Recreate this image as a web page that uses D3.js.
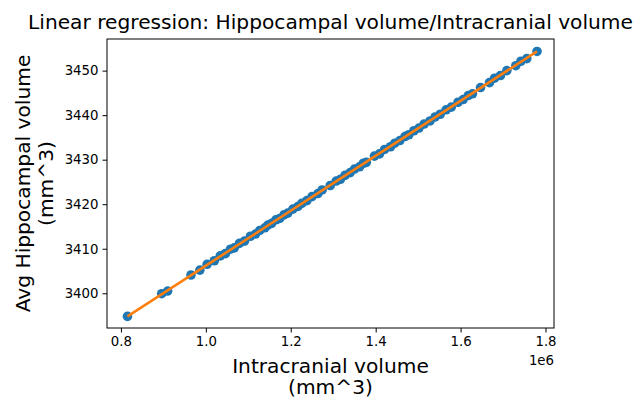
<!DOCTYPE html>
<html>
<head>
<meta charset="utf-8">
<script src="https://cdn.jsdelivr.net/npm/d3@7"></script>
<style>
  body { margin: 0; background: #fff; }
  svg text { font-family: "DejaVu Sans", sans-serif; fill: #000; }
</style>
</head>
<body>
<svg width="635" height="399"></svg>
<script>
// intracranial volume (mm^3)
var icv = [815400, 896000, 910000, 965000, 986000, 1003000, 1020000, 1034000, 1046000, 1058000,
  1067000, 1079000, 1091000, 1105000, 1117000, 1127000, 1139000, 1146000, 1155000, 1165000,
  1174000, 1184000, 1193000, 1205000, 1217000, 1226000, 1238000, 1250000, 1264000, 1274000,
  1293000, 1307000, 1317000, 1328000, 1340000, 1350000, 1362000, 1371000, 1378000, 1397000,
  1409000, 1421000, 1435000, 1445000, 1457000, 1469000, 1478000, 1490000, 1502000, 1514000,
  1528000, 1540000, 1552000, 1566000, 1578000, 1594000, 1606000, 1618000, 1628000, 1647000,
  1668000, 1680000, 1694000, 1709000, 1730000, 1742000, 1756000, 1780000];
// avg hippocampal volume (mm^3)
var hippo = [3394.8, 3399.9, 3400.5, 3404.1, 3405.2, 3406.5, 3407.3, 3408.4, 3408.9, 3409.9,
  3410.2, 3411.2, 3411.7, 3412.8, 3413.3, 3414.1, 3414.7, 3415.3, 3415.7, 3416.5,
  3416.8, 3417.6, 3418.0, 3418.9, 3419.5, 3420.2, 3420.8, 3421.7, 3422.4, 3423.2,
  3424.2, 3425.2, 3425.6, 3426.5, 3427.1, 3427.9, 3428.4, 3429.2, 3429.4, 3430.8,
  3431.3, 3432.3, 3432.9, 3433.7, 3434.3, 3435.2, 3435.6, 3436.5, 3437.1, 3438.0,
  3438.7, 3439.6, 3440.2, 3441.2, 3441.8, 3442.9, 3443.5, 3444.4, 3444.8, 3446.2,
  3447.3, 3448.3, 3448.9, 3450.0, 3451.1, 3452.1, 3452.7, 3454.3];

var xTicks = [0.8e6, 1.0e6, 1.2e6, 1.4e6, 1.6e6, 1.8e6];
var yTicks = [3400, 3410, 3420, 3430, 3440, 3450];

var svg = d3.select("svg");
var pL = 107, pR = 554, pT = 39, pB = 328;

var x = d3.scaleLinear().domain([767200, 1820000]).range([pL, pR]);
var y = d3.scaleLinear().domain([3392.2, 3457.1]).range([pB, pT]);

// frame
svg.append("rect").attr("x", pL).attr("y", pT)
  .attr("width", pR - pL).attr("height", pB - pT)
  .attr("fill", "none").attr("stroke", "#000").attr("stroke-width", 1);

var xAxis = svg.append("g").attr("transform", "translate(0," + pB + ")")
  .call(d3.axisBottom(x).tickValues(xTicks).tickSize(4.5).tickPadding(4)
    .tickFormat(function (d) { return d3.format(".1f")(d / 1e6); }));
var yAxis = svg.append("g").attr("transform", "translate(" + pL + ",0)")
  .call(d3.axisLeft(y).tickValues(yTicks).tickSize(4.5).tickPadding(4).tickFormat(d3.format("d")));
[xAxis, yAxis].forEach(function (g) {
  g.select(".domain").remove();
  g.selectAll("text").attr("font-size", "13.3px").attr("font-family", "DejaVu Sans");
  g.selectAll("line").attr("stroke", "#000");
});

// scatter
svg.append("g").selectAll("circle")
  .data(icv)
  .enter().append("circle")
  .attr("cx", function (d) { return x(d); })
  .attr("cy", function (d, i) { return y(hippo[i]); })
  .attr("r", 4.8)
  .attr("fill", "#1f77b4");

// least squares fit
var mx = d3.mean(icv), my = d3.mean(hippo);
var sxy = d3.sum(icv, function (d, i) { return (d - mx) * (hippo[i] - my); });
var sxx = d3.sum(icv, function (d) { return (d - mx) * (d - mx); });
var slope = sxy / sxx, icpt = my - slope * mx;
var ext = d3.extent(icv);
svg.append("path")
  .datum(ext)
  .attr("d", d3.line().x(function (d) { return x(d); }).y(function (d) { return y(icpt + slope * d); }))
  .attr("stroke", "#ff7f0e").attr("stroke-width", 2.6).attr("fill", "none");

// texts
svg.append("text").attr("x", 330.5).attr("y", 29)
  .attr("text-anchor", "middle").attr("font-size", "20.2px")
  .text("Linear regression: Hippocampal volume/Intracranial volume");

var xl = svg.append("text").attr("text-anchor", "middle").attr("font-size", "20.2px");
xl.append("tspan").attr("x", (pL + pR) / 2).attr("y", 373).text("Intracranial volume");
xl.append("tspan").attr("x", (pL + pR) / 2).attr("y", 394).text("(mm^3)");

svg.append("text").attr("x", pR).attr("y", 365).attr("text-anchor", "end")
  .attr("font-size", "13.3px").text("1e6");

var yc = (pT + pB) / 2;
var yl = svg.append("text").attr("text-anchor", "middle").attr("font-size", "20.2px")
  .attr("transform", "translate(0," + yc + ") rotate(-90)");
yl.append("tspan").attr("x", 0).attr("y", 30).text("Avg Hippocampal volume");
yl.append("tspan").attr("x", 0).attr("y", 53).text("(mm^3)");
</script>
</body>
</html>
